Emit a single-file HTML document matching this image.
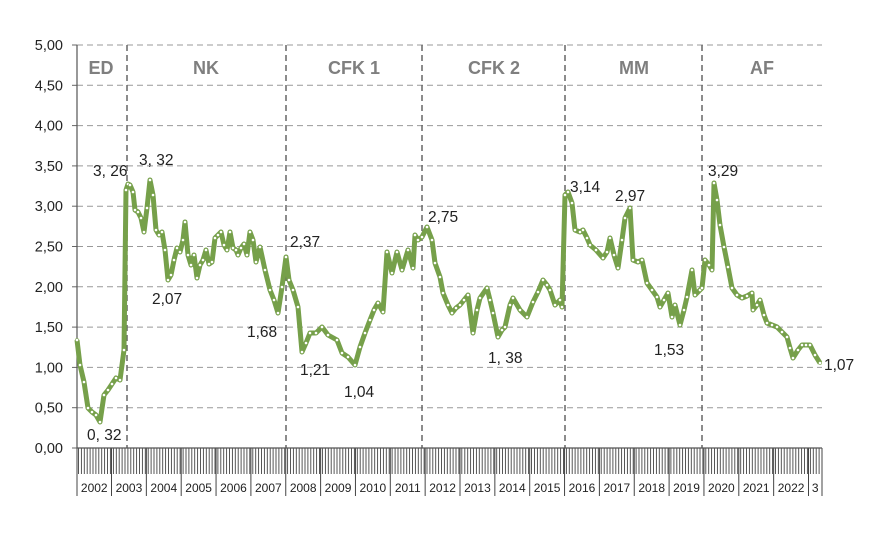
<!DOCTYPE html>
<html><head><meta charset="utf-8"><style>
body{margin:0;background:#fff;}
svg{display:block;font-family:"Liberation Sans",sans-serif;}
</style></head><body>
<svg id="s" width="887" height="539" xmlns="http://www.w3.org/2000/svg"></svg>
<script>
const s=document.getElementById('s');let h='';
const X0=77,X1=822,Y0=448;
for(let k=0;k<=10;k++){const y=Y0-k*40.3;
 if(k>0)h+=`<line x1="${X0}" y1="${y}" x2="${X1}" y2="${y}" stroke="#999" stroke-dasharray="6,4" stroke-width="1"/>`;
 h+=`<line x1="72" y1="${y}" x2="${X0}" y2="${y}" stroke="#666"/>`;
 h+=`<text x="63" y="${y+5}" font-size="14.5" text-anchor="end" fill="#222">${(k/2).toFixed(2).replace('.',',')}</text>`;}
[127,286,422,565,702].forEach(x=>h+=`<line x1="${x}" y1="45" x2="${x}" y2="${Y0}" stroke="#666" stroke-width="1.5" stroke-dasharray="6,4"/>`);
[["ED",101],["NK",206],["CFK 1",354],["CFK 2",494],["MM",634],["AF",762]].forEach(a=>h+=`<text x="${a[1]}" y="74" font-size="18" font-weight="bold" fill="#7f7f7f" text-anchor="middle">${a[0]}</text>`);
const yw=34.85,y3=111.5;
for(let x=X0+1.5;x<=X1;x+=yw/12)h+=`<line x1="${x.toFixed(1)}" y1="${Y0}" x2="${x.toFixed(1)}" y2="474" stroke="#444" stroke-width="0.9"/>`;
const bounds=[X0];for(let y=2003;y<=2023;y++)bounds.push(y3+(y-2003)*yw);bounds.push(X1);
bounds.forEach(x=>h+=`<line x1="${x}" y1="${Y0}" x2="${x}" y2="496" stroke="#444" stroke-width="1"/>`);
for(let i=0;i<bounds.length-1;i++){const lab=i==21?"3":String(2002+i);h+=`<text x="${(bounds[i]+bounds[i+1])/2}" y="492" font-size="12" text-anchor="middle" fill="#222">${lab}</text>`;}
h+=`<line x1="${X0}" y1="45" x2="${X0}" y2="${Y0}" stroke="#555" stroke-width="1.2"/><line x1="${X0}" y1="${Y0}" x2="${X1}" y2="${Y0}" stroke="#555" stroke-width="1.2"/>`;
const p=[[77,340],[80,365],[84,382],[88,408],[92,412],[96,415],[100,422],[104,395],[108,390],[112,384],[116,378],[120,380],[124,350],[126,190],[128,184],[130,185],[133,192],[135,210],[138,212],[141,218],[144,232],[147,208],[150,180],[153,195],[156,230],[159,235],[162,232],[165,250],[168,280],[171,275],[174,260],[177,248],[180,252],[183,240],[185,222],[188,255],[191,265],[194,255],[197,278],[200,265],[203,260],[206,250],[209,264],[212,262],[215,238],[218,235],[221,232],[224,245],[227,250],[230,232],[233,248],[236,250],[238,255],[241,248],[244,244],[247,255],[250,232],[253,240],[256,262],[260,247],[265,270],[270,290],[274,300],[278,313],[282,287],[286,257],[289,280],[293,290],[298,307],[302,352],[306,343],[310,333],[316,333],[322,327],[328,335],[337,340],[342,353],[348,357],[355,365],[360,347],[365,333],[370,320],[374,310],[378,303],[383,312],[387,252],[392,273],[397,252],[402,270],[408,250],[413,268],[415,235],[418,240],[422,237],[427,227],[432,240],[435,263],[440,277],[443,293],[448,305],[452,313],[456,308],[460,305],[464,300],[468,295],[473,333],[477,310],[480,298],[487,288],[490,300],[493,313],[498,337],[502,330],[505,327],[510,305],[513,298],[520,310],[527,317],[533,302],[538,292],[543,280],[547,285],[550,290],[555,305],[560,300],[562,307],[565,195],[568,192],[572,203],[575,230],[580,232],[583,230],[587,238],[590,245],[596,250],[603,258],[607,252],[610,238],[614,255],[618,268],[622,240],[625,218],[630,208],[633,260],[638,262],[642,260],[647,283],[652,290],[657,297],[660,307],[664,300],[668,293],[672,317],[675,305],[680,325],[684,310],[687,297],[692,270],[695,295],[700,290],[702,288],[705,260],[709,265],[712,270],[714,183],[717,200],[720,225],[724,247],[728,267],[732,288],[737,295],[742,298],[747,296],[752,293],[753,310],[757,305],[760,300],[764,315],[767,323],[772,325],[777,327],[782,332],[787,337],[790,348],[793,358],[798,350],[802,345],[806,345],[810,345],[815,355],[820,363]];
h+=`<polyline points="${p.map(a=>a.join(',')).join(' ')}" fill="none" stroke="#76a04a" stroke-width="5" stroke-linejoin="round"/>`;
p.forEach(a=>h+=`<circle cx="${a[0]}" cy="${a[1]}" r="1.6" fill="#fff" stroke="#76a04a" stroke-width="0.6"/>`);
[["3, 26",93,176],["3, 32",139,165],["2,07",152,304],["1,68",247,337],["2,37",290,247],["1,21",300,375],["1,04",344,397],["2,75",428,222],["1, 38",488,363],["3,14",570,192],["2,97",615,201],["1,53",654,355],["3,29",708,176],["1,07",824,370],["0, 32",87,440]].forEach(a=>h+=`<text x="${a[1]}" y="${a[2]}" font-size="15.5" fill="#222">${a[0]}</text>`);
s.innerHTML=h;
</script>
</body></html>
